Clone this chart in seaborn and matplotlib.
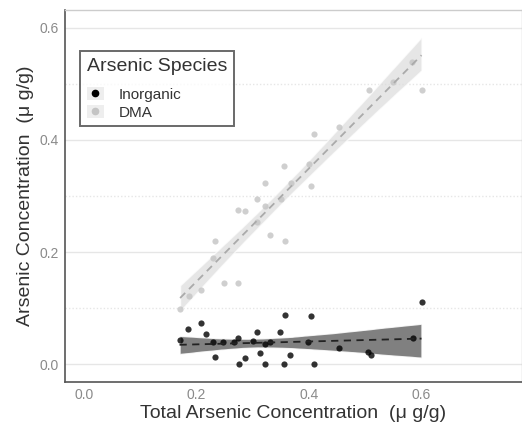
import numpy as np
import pandas as pd
import matplotlib
matplotlib.use("Agg")
import matplotlib.pyplot as plt
import seaborn as sns
from matplotlib.lines import Line2D
from matplotlib.patches import Patch

# 데이터
inorg_total = [0.170, 0.185, 0.209, 0.218, 0.229, 0.234, 0.248, 0.267, 0.274, 0.276,
               0.286, 0.301, 0.308, 0.3125, 0.322, 0.322, 0.332, 0.349, 0.358, 0.356,
               0.367, 0.399, 0.404, 0.410, 0.454, 0.506, 0.511, 0.585, 0.601]
inorg_conc = [0.043, 0.062, 0.074, 0.053, 0.039, 0.0125, 0.039, 0.040, 0.047, 0.0,
              0.011, 0.042, 0.057, 0.020, 0.0, 0.035, 0.039, 0.057, 0.087, 0.0,
              0.016, 0.040, 0.085, 0.0, 0.028, 0.022, 0.017, 0.046, 0.111]

dma_total = [0.171, 0.1875, 0.209, 0.234, 0.229, 0.249, 0.274, 0.274, 0.287, 0.308,
             0.322, 0.308, 0.322, 0.332, 0.350, 0.356, 0.358, 0.368, 0.400, 0.404,
             0.410, 0.454, 0.508, 0.551, 0.584, 0.601]
dma_conc = [0.099, 0.121, 0.132, 0.220, 0.189, 0.144, 0.145, 0.275, 0.273, 0.294,
            0.323, 0.254, 0.283, 0.230, 0.295, 0.354, 0.220, 0.323, 0.358, 0.318,
            0.410, 0.424, 0.490, 0.504, 0.539, 0.489]

species_names = ['Inorganic', 'DMA']
x_ticks = [0.0, 0.2, 0.4, 0.6]
y_ticks = [0.0, 0.2, 0.4, 0.6]

df = pd.concat([
    pd.DataFrame({'total': inorg_total, 'conc': inorg_conc, 'species': 'Inorganic'}),
    pd.DataFrame({'total': dma_total, 'conc': dma_conc, 'species': 'DMA'}),
], ignore_index=True)

sns.set_style("white")
plt.rcParams['font.family'] = ['Liberation Sans', 'DejaVu Sans']

fig = plt.figure(figsize=(5.22, 4.26), dpi=100)
ax = fig.add_axes([65 / 522, 44 / 426, 1 - 65 / 522, (382 - 10) / 426])

# 스타일: (점 색, 선 색, 밴드 색, 밴드 투명도)
styles = {
    'Inorganic': ('black', '#222222', '#6a6a6a', 0.85),
    'DMA': ('#c4c4c4', '#aaaaaa', '#dcdcdc', 0.7),
}

for sp in species_names:
    pt_c, ln_c, band_c, band_a = styles[sp]
    sub = df[df['species'] == sp]
    n_before = len(ax.collections)
    sns.regplot(data=sub, x='total', y='conc', ax=ax, ci=90, n_boot=2000, seed=3,
                scatter_kws=dict(s=20, color=pt_c, zorder=3, linewidths=0),
                line_kws=dict(color=ln_c, linestyle=(0, (4, 3)), linewidth=1.3, zorder=4))
    for coll in ax.collections[n_before:]:
        if isinstance(coll, matplotlib.collections.PolyCollection):
            coll.set_facecolor(band_c)
            coll.set_alpha(band_a)
            coll.set_zorder(2)

# 격자선
for v in y_ticks:
    ax.axhline(v, color='#e6e6e6', linewidth=1.0, zorder=0)
for v in [0.1, 0.3, 0.5]:
    ax.axhline(v, color='#e6e6e6', linewidth=1.0, linestyle=(0, (1, 1.5)), zorder=0)

ax.set_xlim(-0.034, 0.78)
ax.set_ylim(-0.032, 0.632)
ax.set_xticks(x_ticks)
ax.set_yticks(y_ticks)
ax.set_xticklabels([f"{t:.1f}" for t in x_ticks])
ax.set_yticklabels([f"{t:.1f}" for t in y_ticks])
ax.tick_params(axis='both', labelsize=10, labelcolor='#8a8a8a', colors='#aaaaaa',
               length=2.5, width=0.8, pad=2)

for side in ['left', 'bottom']:
    ax.spines[side].set_color('#555555')
    ax.spines[side].set_linewidth(1.2)
for side in ['top', 'right']:
    ax.spines[side].set_color('#cccccc')
    ax.spines[side].set_linewidth(1.0)

ax.set_xlabel("Total Arsenic Concentration  (μ g/g)", fontsize=14, color='#333333', labelpad=2)
ax.set_ylabel("Arsenic Concentration  (μ g/g)", fontsize=14, color='#333333', labelpad=4)

handles = [
    (Patch(facecolor='#eeeeee', edgecolor='none'),
     Line2D([], [], marker='o', linestyle='none', color='black', markersize=4.5)),
    (Patch(facecolor='#eeeeee', edgecolor='none'),
     Line2D([], [], marker='o', linestyle='none', color='#c4c4c4', markersize=4.5)),
]
leg = ax.legend(handles, species_names, title="Arsenic Species", loc='upper left',
                bbox_to_anchor=(0.033, 0.89), fontsize=11, title_fontsize=14,
                frameon=True, fancybox=False, handlelength=1.1, handleheight=0.9,
                handletextpad=1.0, borderpad=0.45, labelspacing=0.2, borderaxespad=0)
leg.get_frame().set_edgecolor('#444444')
leg.get_frame().set_linewidth(1.4)
leg._legend_box.align = "left"
leg._legend_box.sep = 9
for t in leg.get_texts():
    t.set_color('#333333')
leg.get_title().set_color('#333333')

fig.savefig("out.png", dpi=100)
